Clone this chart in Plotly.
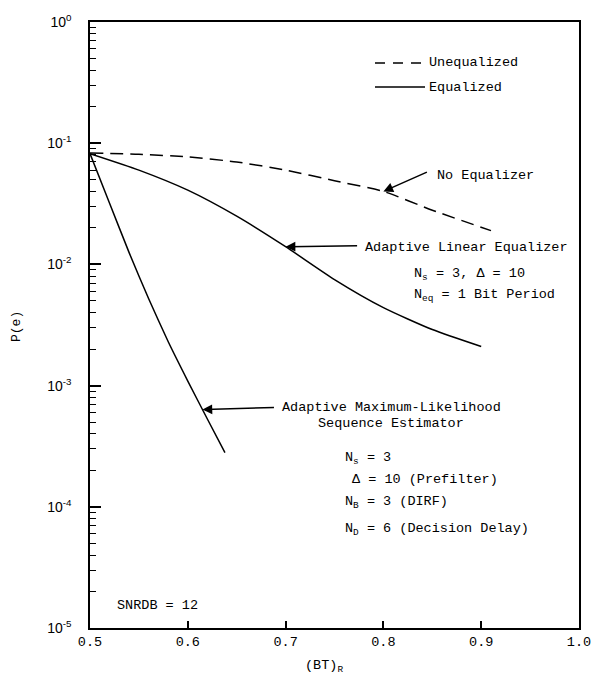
import numpy as np
import plotly.graph_objects as go

# ---- data ----
bt_unequalized = [0.50, 0.55, 0.60, 0.65, 0.70, 0.75, 0.80, 0.85, 0.91]
p_unequalized = [0.083, 0.081, 0.077, 0.070, 0.060, 0.049, 0.040, 0.028, 0.019]

bt_linear = [0.50, 0.55, 0.60, 0.65, 0.70, 0.75, 0.80, 0.85, 0.90]
p_linear = [0.082, 0.060, 0.041, 0.025, 0.014, 0.0075, 0.0044, 0.0029, 0.0021]

bt_mlse = [0.50, 0.52, 0.54, 0.56, 0.58, 0.60, 0.62, 0.638]
p_mlse = [0.082, 0.032, 0.0125, 0.0052, 0.0023, 0.00109, 0.00053, 0.00028]

x_ticks = [0.5, 0.6, 0.7, 0.8, 0.9, 1.0]
x_ticktext = ["0.5", "0.6", "0.7", "0.8", "0.9", "1.0"]
y_ticks = [1e-5, 1e-4, 1e-3, 1e-2, 1e-1, 1e0]
y_ticktext = ["10<sup>-5</sup>", "10<sup>-4</sup>", "10<sup>-3</sup>",
              "10<sup>-2</sup>", "10<sup>-1</sup>", "10<sup>0</sup>"]
y_minor = [m * 10.0 ** e for e in range(-5, 0) for m in range(2, 10)]

# ---- layout helpers ----
W, H = 592, 680
L, R, T, B = 90, 13, 22, 52
PW, PH = W - L - R, H - T - B


def paper(px, py):
    return (px - L) / PW, (H - B - py) / PH


def log_interp(xs, ps, x):
    return float(np.interp(x, xs, np.log10(ps)))


MONO = "Liberation Mono"
fs = 13.5
black = "black"

fig = go.Figure()
fig.add_trace(go.Scatter(x=bt_unequalized, y=p_unequalized, mode="lines",
                         line=dict(color=black, width=1.5, dash="13px,7px",
                                   shape="spline", smoothing=0.6),
                         showlegend=False))
fig.add_trace(go.Scatter(x=bt_linear, y=p_linear, mode="lines",
                         line=dict(color=black, width=1.5, shape="spline", smoothing=0.6),
                         showlegend=False))
fig.add_trace(go.Scatter(x=bt_mlse, y=p_mlse, mode="lines",
                         line=dict(color=black, width=1.5, shape="spline", smoothing=0.5),
                         showlegend=False))

annotations = []


def text(t, px, py, xanchor="left", size=fs, angle=0):
    x, y = paper(px, py)
    annotations.append(dict(text=t, x=x, y=y, xref="paper", yref="paper",
                            xanchor=xanchor, yanchor="middle", showarrow=False,
                            textangle=angle,
                            font=dict(family=MONO, size=size, color=black)))


def arrow(x, ylog, ax, ay):
    annotations.append(dict(text="", x=x, y=ylog, xref="x", yref="y",
                            ax=ax, ay=ay, showarrow=True, arrowhead=2,
                            arrowsize=1.3, arrowwidth=1.5, arrowcolor=black,
                            standoff=0, startstandoff=0))


# legend text
text("Unequalized", 427, 63)
text("Equalized", 427, 87)

# curve labels
text("No Equalizer", 435, 175)
arrow(0.80, log_interp(bt_unequalized, p_unequalized, 0.80), 45, -20)

text("Adaptive Linear Equalizer", 363, 247)
arrow(0.70, log_interp(bt_linear, p_linear, 0.70), 73, -1)
text("N<sub>s</sub> = 3, \u0394 = 10", 412, 274)
text("N<sub>eq</sub> = 1 Bit Period", 412, 295)

text("Adaptive Maximum-Likelihood", 391, 407, xanchor="center")
text("Sequence Estimator", 391, 423, xanchor="center")
arrow(0.615, log_interp(bt_mlse, p_mlse, 0.615), 73, -2)
text("N<sub>s</sub> = 3", 343, 458)
text("\u0394 = 10 (Prefilter)", 350, 480)
text("N<sub>B</sub> = 3 (DIRF)", 343, 502)
text("N<sub>D</sub> = 6 (Decision Delay)", 343, 529)

text("SNRDB = 12", 115, 605)

# axis titles
text("(BT)<sub>R</sub>", 324, 666, xanchor="center")
text("P(e)", 17, 327, xanchor="center", size=13, angle=-90)

# legend samples
x0, y0 = paper(375, 63)
x1, _ = paper(425, 63)
_, y1 = paper(375, 87)
shapes = [
    dict(type="line", xref="paper", yref="paper", x0=x0, x1=x1, y0=y0, y1=y0,
         line=dict(color=black, width=1.5, dash="10px,8px")),
    dict(type="line", xref="paper", yref="paper", x0=x0, x1=x1, y0=y1, y1=y1,
         line=dict(color=black, width=1.5)),
]

fig.update_layout(
    width=W, height=H,
    margin=dict(l=L, r=R, t=T, b=B, pad=0, autoexpand=False),
    paper_bgcolor="white", plot_bgcolor="white",
    showlegend=False,
    annotations=annotations, shapes=shapes,
    xaxis=dict(range=[0.5, 1.0], tickvals=x_ticks, ticktext=x_ticktext,
               ticks="inside", ticklen=7, tickwidth=1.5, tickcolor=black,
               showline=True, linecolor=black, linewidth=1.5, mirror=True,
               showgrid=False, zeroline=False, automargin=False,
               ticklabeloverflow="allow",
               tickfont=dict(family=MONO, size=13.5, color=black)),
    yaxis=dict(type="log", range=[-5, 0], tickvals=y_ticks, ticktext=y_ticktext,
               ticks="inside", ticklen=11, tickwidth=1.5, tickcolor=black,
               showline=True, linecolor=black, linewidth=1.5, mirror=True,
               showgrid=False, zeroline=False, ticklabelstandoff=14,
               automargin=False,
               tickfont=dict(family="Liberation Sans", size=14, color=black),
               minor=dict(tickvals=y_minor, ticks="inside", ticklen=6,
                          tickwidth=1.2, tickcolor=black, showgrid=False)),
)

fig.write_html("out.html")
